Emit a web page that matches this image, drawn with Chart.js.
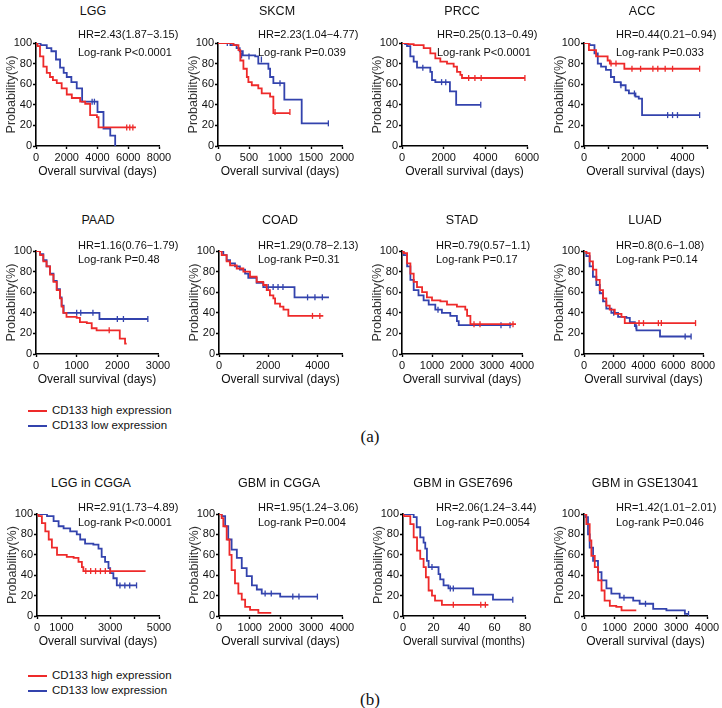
<!DOCTYPE html>
<html><head><meta charset="utf-8">
<script src="https://cdn.jsdelivr.net/npm/chart.js@4.4.0/dist/chart.umd.min.js"></script>
<style>
body{margin:0;background:#fff;width:722px;height:708px;position:relative;overflow:hidden;font-family:"Liberation Sans",Arial,sans-serif;}
canvas{position:absolute;}
.t{position:absolute;white-space:nowrap;color:#111;line-height:1;}
.c{transform:translate(-50%,-50%);}
.l{transform:translateY(-50%);}
.lg{position:absolute;height:0;width:19px;border-top:2px solid;}
.ab{position:absolute;font-family:"Liberation Serif","Times New Roman",serif;font-size:17px;transform:translate(-50%,-50%);color:#111;}
</style></head><body>
<script>
// ---------- DATA ----------
const titles = ['LGG','SKCM','PRCC','ACC','PAAD','COAD','STAD','LUAD','LGG in CGGA','GBM in CGGA','GBM in GSE7696','GBM in GSE13041'];
const hrLabels = ['HR=2.43(1.87\u22123.15)','HR=2.23(1.04\u22124.77)','HR=0.25(0.13\u22120.49)','HR=0.44(0.21\u22120.94)',
  'HR=1.16(0.76\u22121.79)','HR=1.29(0.78\u22122.13)','HR=0.79(0.57\u22121.1)','HR=0.8(0.6\u22121.08)',
  'HR=2.91(1.73\u22124.89)','HR=1.95(1.24\u22123.06)','HR=2.06(1.24\u22123.44)','HR=1.42(1.01\u22122.01)'];
const pLabels = ['Log-rank P<0.0001','Log-rank P=0.039','Log-rank P<0.0001','Log-rank P=0.033',
  'Log-rank P=0.48','Log-rank P=0.31','Log-rank P=0.17','Log-rank P=0.14',
  'Log-rank P<0.0001','Log-rank P=0.004','Log-rank P=0.0054','Log-rank P=0.046'];
const xTitles = ['Overall survival (days)','Overall survival (days)','Overall survival (days)','Overall survival (days)',
  'Overall survival (days)','Overall survival (days)','Overall survival (days)','Overall survival (days)',
  'Overall survival (days)','Overall survival (days)','Overall survival (months)','Overall survival (days)'];
const yTitle = 'Probability(%)';
const xMax = [8000,2000,6000,5000,3000,5000,4000,8000,5000,4000,80,4000];
const xStep = [2000,500,2000,1000,1000,1000,1000,2000,1000,1000,20,1000];
const xTickLabels = [
  [0,2000,4000,6000,8000],[0,500,1000,1500,2000],[0,2000,4000,6000],[0,2000,4000],
  [0,1000,2000,3000],[0,2000,4000],[0,1000,2000,3000,4000],[0,2000,4000,6000,8000],
  [0,1000,3000,5000],[0,1000,2000,3000,4000],[0,20,40,60,80],[0,1000,2000,3000,4000]];
const legendLabels = ['CD133 high expression','CD133 low expression'];

const lggHigh = [[0,100],[100,97],[260,87],[480,77],[700,71],[910,67],[1100,64],[1350,61],[1670,56],[2000,50],[2330,46.6],[2870,43],[3200,41],[3520,30],[3960,28],[4065,18],[6500,18]];
const lggLow = [[0,100],[300,98],[700,95],[1000,92],[1300,84],[1565,76],[1800,71],[2000,67],[2300,62],[2650,56],[3000,43],[3960,43],[4000,33],[4390,17],[4830,10],[5150,0]];
const lggHighCens = [[5900,18],[6100,18],[6300,18]];
const lggLowCens = [[3650,43],[3800,43]];

const skcmHigh = [[0,100],[250,98],[330,93],[360,83],[410,75],[465,67],[490,62],[545,59],[650,56],[705,51],[840,48],[893,32],[1160,32]];
const skcmLow = [[0,100],[200,98],[300,95],[350,92],[400,88],[600,87],[650,80],[813,75],[840,67],[893,61],[1070,45],[1350,22],[1780,22]];
const skcmHighCens = [[920,33],[1160,33]];
const skcmLowCens = [[150,100],[250,100],[380,88],[500,87],[700,84],[1000,61],[1780,22]];

const prccHigh = [[0,100],[300,99],[560,98],[1040,95],[1360,90],[1600,85],[1840,82],[2160,80],[2480,77],[2640,72],[2800,69],[2880,66],[5900,66]];
const prccLow = [[0,100],[150,99],[240,97],[400,87],[560,82],[720,76],[1360,72],[1440,64],[1600,62],[2300,53],[2600,40],[3780,40]];
const prccHighCens = [[3200,66],[3500,66],[3800,66],[5900,66]];
const prccLowCens = [[1000,76],[1900,62],[2100,62],[3780,40]];

const accHigh = [[0,100],[200,93],[490,87],[960,83],[1050,80],[1640,75],[4700,75]];
const accLow = [[0,100],[226,98],[426,90],[560,80],[693,77],[893,74],[1093,67],[1226,62],[1493,59],[1693,54],[1826,51],[2093,48],[2226,46],[2360,30],[4700,30]];
const accHighCens = [[1100,80],[1300,80],[1950,75],[2300,75],[2800,75],[3000,75],[3300,75],[3600,75],[4700,75]];
const accLowCens = [[1500,59],[2050,51],[3400,30],[3600,30],[3800,30],[4700,30]];

const paadHigh = [[0,100],[100,96],[180,90],[260,85],[345,77],[430,70],[510,62],[590,54],[630,46],[670,40],[750,36],[1000,35],[1080,31],[1250,30],[1370,25],[1490,23],[2060,15],[2190,10],[2230,10]];
const paadLow = [[0,100],[100,97],[180,91],[260,85],[345,78],[430,71],[510,63],[590,55],[630,47],[680,40],[1560,34],[2750,34]];
const paadHighCens = [[1800,23]];
const paadLowCens = [[1000,40],[1100,40],[1400,40],[2000,34],[2150,34],[2750,34]];

const coadHigh = [[0,100],[110,96],[310,90],[450,86],[720,83],[990,80],[1260,75],[1530,70],[1800,67],[1940,62],[2070,57],[2210,54],[2280,49],[2480,46],[2620,43],[2820,37],[4240,37]];
const coadLow = [[0,100],[175,96],[310,91],[450,88],[650,85],[850,82],[1060,78],[1190,74],[1530,69],[1800,65],[3070,55],[4470,55]];
const coadHighCens = [[3800,37],[4100,37]];
const coadLowCens = [[2000,65],[2200,65],[2400,65],[2600,65],[3600,55],[3900,55],[4200,55]];

const stadHigh = [[0,100],[55,98],[170,88],[280,78],[390,70],[500,65],[670,60],[830,55],[1000,52],[1280,51],[1500,48],[1830,46],[2110,43],[2170,37],[2280,29],[3800,29]];
const stadLow = [[0,100],[55,96],[170,85],[280,72],[390,62],[550,57],[720,52],[890,48],[1110,43],[1330,40],[1610,37],[1830,32],[1890,28],[3650,28]];
const stadHighCens = [[2400,29],[2600,29],[3700,29]];
const stadLowCens = [[1200,43],[3300,28],[3600,28]];

const luadHigh = [[0,100],[157,98],[380,90],[600,82],[830,72],[1060,62],[1280,54],[1500,47],[1730,43],[2070,39],[2520,36],[2740,30],[7500,30]];
const luadLow = [[0,100],[157,95],[380,85],[600,75],[830,67],[1060,59],[1280,51],[1500,44],[1840,40],[2290,36],[2850,35],[3080,31],[3420,27],[3530,23],[5110,17],[7200,17]];
const luadHighCens = [[3700,30],[4000,30],[5000,30],[5200,30],[7500,30]];
const luadLowCens = [[2000,40],[3500,27],[6800,17],[7200,17]];

const lggcHigh = [[0,100],[70,98],[200,91],[340,83],[480,75],[610,67],[820,60],[1220,58],[1500,57],[1700,53],[1840,48],[1900,44],[4450,44]];
const lggcLow = [[0,100],[410,98],[680,93],[885,88],[1090,86],[1360,83],[1630,80],[1770,75],[1970,71],[2310,70],[2520,66],[2650,58],[2790,53],[2930,47],[3000,42],[3130,37],[3270,30],[4080,30]];
const lggcHighCens = [[2000,44],[2200,44],[2400,44],[2600,44],[2800,44],[3000,44]];
const lggcLowCens = [[3400,30],[3600,30],[3800,30],[4080,30]];

const gbmcHigh = [[0,100],[87,96],[140,88],[250,75],[340,60],[410,45],[520,32],[630,22],[740,16],[850,9],[1010,6],[1280,3],[1700,3]];
const gbmcLow = [[0,100],[87,98],[200,88],[300,75],[410,65],[580,57],[740,47],[900,39],[1070,30],[1230,26],[1390,22],[1990,19],[3200,19]];
const gbmcHighCens = [];
const gbmcLowCens = [[1500,22],[1700,22],[2400,19],[2600,19],[3200,19]];

const g7696High = [[0,100],[0.4,98],[4.8,90],[7,77],[9.2,64],[11.3,56],[13.5,48],[15,38],[16.8,25],[19,20],[21,15],[25.5,11],[56,11]];
const g7696Low = [[0,100],[3.7,100],[7,97],[9,87],[11.3,77],[13.5,72],[14.6,66],[15.7,54],[16.8,48],[23.3,41],[24.4,36],[26.6,30],[29.8,27],[46,21],[59,16],[72,16]];
const g7696HighCens = [[33,11],[51,11],[54,11]];
const g7696LowCens = [[19,48],[31,27],[33,27],[72,16]];

const g13041High = [[0,100],[76,90],[185,74],[240,59],[350,48],[460,35],[570,25],[670,15],[840,10],[1050,9],[1220,5.5],[1700,5.5]];
const g13041Low = [[0,100],[54,97],[130,80],[185,67],[295,54],[455,43],[570,35],[730,27],[890,22],[1160,18],[1600,15],[1810,12],[2250,7],[2680,5.5],[3280,2],[3400,2]];
const g13041HighCens = [];
const g13041LowCens = [[1300,18],[2000,12],[3400,2]];

const highSeries = [lggHigh,skcmHigh,prccHigh,accHigh,paadHigh,coadHigh,stadHigh,luadHigh,lggcHigh,gbmcHigh,g7696High,g13041High];
const lowSeries = [lggLow,skcmLow,prccLow,accLow,paadLow,coadLow,stadLow,luadLow,lggcLow,gbmcLow,g7696Low,g13041Low];
const highCens = [lggHighCens,skcmHighCens,prccHighCens,accHighCens,paadHighCens,coadHighCens,stadHighCens,luadHighCens,lggcHighCens,gbmcHighCens,g7696HighCens,g13041HighCens];
const lowCens = [lggLowCens,skcmLowCens,prccLowCens,accLowCens,paadLowCens,coadLowCens,stadLowCens,luadLowCens,lggcLowCens,gbmcLowCens,g7696LowCens,g13041LowCens];

// ---------- LAYOUT (pixels) ----------
const plotL = [36,218,402,584, 36,219,402,584, 37,219,403,584];
const plotR = [159,342,527,707, 158,342,522,703, 159,342,525,707];
const rowT = [43,251,514];
const rowB = [146,354,616];
const titleX = [93,277,462,642, 98,280,462,645, 91,279,463,645];
const titleY = [11,220,483];
const hrX = [78,258,437,616, 78,258,436,616, 78,258,436,616];
const hrY = [34,245,507];
const pY = [52,259,522];
const RED = '#ee2a2a', BLUE = '#3343ad';
const FONT = "'Liberation Sans', Arial, sans-serif";

function txt(text, x, y, cls, size, weight){
  const d = document.createElement('div');
  d.className = 't ' + cls; d.textContent = text;
  d.style.left = x + 'px'; d.style.top = y + 'px';
  d.style.fontSize = size + 'px';
  if (weight) d.style.fontWeight = weight;
  document.body.appendChild(d);
}
const toXY = a => a.map(p => ({x:p[0], y:p[1]}));

const PADT = 8, PADR = 16, YW = 36, XH = 33;
for (let i = 0; i < 12; i++) {
  const row = Math.floor(i/4);
  const L = plotL[i], R = plotR[i], T = rowT[row], B = rowB[row];
  const cv = document.createElement('canvas');
  const w = (R - L) + YW + PADR, h = (B - T) + PADT + XH;
  cv.width = w; cv.height = h;
  cv.style.left = (L - YW) + 'px'; cv.style.top = (T - PADT) + 'px';
  cv.style.width = w + 'px'; cv.style.height = h + 'px';
  document.body.appendChild(cv);
  const lineDs = (data, color) => ({type:'line', data: toXY(data), borderColor: color, borderWidth: 1.8, pointRadius: 0, stepped: 'before', fill: false, tension: 0});
  const censDs = (data, color) => ({type:'line', data: toXY(data), showLine: false, borderColor: color, backgroundColor: color, pointStyle: 'line', rotation: 90, pointRadius: 3, pointBorderWidth: 1.3, pointHoverRadius: 0});
  const labs = xTickLabels[i];
  new Chart(cv, {
    type: 'line',
    data: { datasets: [
      lineDs(highSeries[i], RED), censDs(highCens[i], RED),
      lineDs(lowSeries[i], BLUE), censDs(lowCens[i], BLUE)
    ]},
    options: {
      responsive: false, animation: false, devicePixelRatio: 1,
      layout: { padding: { left: 0, top: PADT, right: PADR, bottom: 0 } },
      plugins: { legend: { display: false }, tooltip: { enabled: false } },
      events: [],
      scales: {
        x: {
          type: 'linear', min: 0, max: xMax[i], position: 'bottom',
          afterFit: s => { s.height = XH; s.paddingLeft = 0; s.paddingRight = 0; },
          border: { display: true, color: '#000', width: 1.6 },
          grid: { display: true, drawOnChartArea: false, drawTicks: true, tickLength: 3, tickColor: '#000', tickWidth: 1.4 },
          ticks: { stepSize: xStep[i], autoSkip: false, maxRotation: 0, padding: 2, color: '#111', font: { family: FONT, size: 11 },
                   callback: v => (labs.includes(v) ? String(v) : '') },
          title: { display: true, text: xTitles[i], color: '#111', font: { family: FONT, size: 12 }, padding: { top: 0, bottom: 0 } }
        },
        y: {
          type: 'linear', min: 0, max: 100, position: 'left',
          afterFit: s => { s.width = YW; s.paddingTop = 0; s.paddingBottom = 0; },
          border: { display: true, color: '#000', width: 1.6 },
          grid: { display: true, drawOnChartArea: false, drawTicks: true, tickLength: 3, tickColor: '#000', tickWidth: 1.4 },
          ticks: { stepSize: 20, padding: 1, color: '#111', font: { family: FONT, size: 11 } },
          title: { display: true, text: yTitle, color: '#333', font: { family: FONT, size: 12.5 }, padding: { top: 4, bottom: 0 } }
        }
      }
    }
  });
  txt(titles[i], titleX[i], titleY[row], 'c', 12.5);
  txt(hrLabels[i], hrX[i], hrY[row], 'l', 11);
  txt(pLabels[i], hrX[i], pY[row], 'l', 11);
}

// legends and panel labels
const legendY = [[411,426],[676,691]];
const abLabels = ['(a)','(b)'];
const abY = [437,700];
for (let k = 0; k < 2; k++) {
  [RED, BLUE].forEach((col, j) => {
    const ln = document.createElement('div');
    ln.className = 'lg'; ln.style.borderColor = col;
    ln.style.left = '28px'; ln.style.top = (legendY[k][j] - 1) + 'px';
    document.body.appendChild(ln);
    txt(legendLabels[j], 52, legendY[k][j], 'l', 11.5);
  });
  const a = document.createElement('div');
  a.className = 'ab'; a.textContent = abLabels[k];
  a.style.left = '370px'; a.style.top = abY[k] + 'px';
  document.body.appendChild(a);
}
</script>
</body></html>
